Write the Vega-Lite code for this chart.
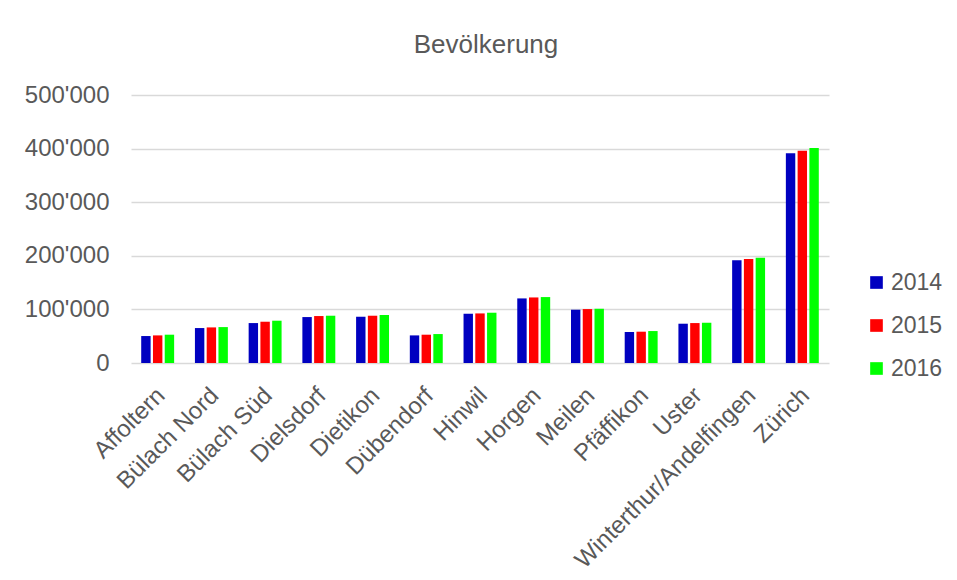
{
  "$schema": "https://vega.github.io/schema/vega-lite/v6.json",
  "autosize": "none",
  "padding": {"left": 131, "top": 95, "right": 128, "bottom": 217},
  "width": 698,
  "height": 268,
  "background": "white",
  "title": {"text": "Bevölkerung", "fontSize": 26, "fontWeight": "normal", "color": "#595959", "font": "Liberation Sans", "offset": 25, "dx": 6},
  "data": {"values": [
    {"bezirk": "Affoltern", "jahr": "2014", "wert": 50300},
    {"bezirk": "Affoltern", "jahr": "2015", "wert": 51500},
    {"bezirk": "Affoltern", "jahr": "2016", "wert": 52800},
    {"bezirk": "Bülach Nord", "jahr": "2014", "wert": 65200},
    {"bezirk": "Bülach Nord", "jahr": "2015", "wert": 66400},
    {"bezirk": "Bülach Nord", "jahr": "2016", "wert": 67000},
    {"bezirk": "Bülach Süd", "jahr": "2014", "wert": 74500},
    {"bezirk": "Bülach Süd", "jahr": "2015", "wert": 77000},
    {"bezirk": "Bülach Süd", "jahr": "2016", "wert": 78900},
    {"bezirk": "Dielsdorf", "jahr": "2014", "wert": 85700},
    {"bezirk": "Dielsdorf", "jahr": "2015", "wert": 87600},
    {"bezirk": "Dielsdorf", "jahr": "2016", "wert": 88200},
    {"bezirk": "Dietikon", "jahr": "2014", "wert": 86300},
    {"bezirk": "Dietikon", "jahr": "2015", "wert": 88200},
    {"bezirk": "Dietikon", "jahr": "2016", "wert": 89400},
    {"bezirk": "Dübendorf", "jahr": "2014", "wert": 51500},
    {"bezirk": "Dübendorf", "jahr": "2015", "wert": 52800},
    {"bezirk": "Dübendorf", "jahr": "2016", "wert": 54000},
    {"bezirk": "Hinwil", "jahr": "2014", "wert": 91900},
    {"bezirk": "Hinwil", "jahr": "2015", "wert": 92500},
    {"bezirk": "Hinwil", "jahr": "2016", "wert": 93800},
    {"bezirk": "Horgen", "jahr": "2014", "wert": 120500},
    {"bezirk": "Horgen", "jahr": "2015", "wert": 122300},
    {"bezirk": "Horgen", "jahr": "2016", "wert": 123000},
    {"bezirk": "Meilen", "jahr": "2014", "wert": 99400},
    {"bezirk": "Meilen", "jahr": "2015", "wert": 100600},
    {"bezirk": "Meilen", "jahr": "2016", "wert": 101200},
    {"bezirk": "Pfäffikon", "jahr": "2014", "wert": 57800},
    {"bezirk": "Pfäffikon", "jahr": "2015", "wert": 58400},
    {"bezirk": "Pfäffikon", "jahr": "2016", "wert": 59600},
    {"bezirk": "Uster", "jahr": "2014", "wert": 73300},
    {"bezirk": "Uster", "jahr": "2015", "wert": 74500},
    {"bezirk": "Uster", "jahr": "2016", "wert": 75100},
    {"bezirk": "Winterthur/Andelfingen", "jahr": "2014", "wert": 191900},
    {"bezirk": "Winterthur/Andelfingen", "jahr": "2015", "wert": 193800},
    {"bezirk": "Winterthur/Andelfingen", "jahr": "2016", "wert": 196200},
    {"bezirk": "Zürich", "jahr": "2014", "wert": 391200},
    {"bezirk": "Zürich", "jahr": "2015", "wert": 396200},
    {"bezirk": "Zürich", "jahr": "2016", "wert": 401200}
  ]},
  "mark": {"type": "bar"},
  "encoding": {
    "x": {
      "field": "bezirk", "type": "nominal", "sort": null,
      "scale": {"paddingInner": 0.387, "paddingOuter": 0.19},
      "axis": {"title": null, "labelAngle": -45, "labelAlign": "right", "labelBaseline": "top", "labelPadding": 20, "labelOffset": -5, "ticks": false, "domain": false, "grid": false, "labelFontSize": 24, "labelColor": "#595959", "labelFont": "Liberation Sans", "labelOverlap": false, "labelLimit": 400}
    },
    "xOffset": {"field": "jahr", "type": "nominal", "scale": {"paddingInner": 0.2}},
    "y": {
      "field": "wert", "type": "quantitative",
      "scale": {"domain": [0, 500000], "nice": false},
      "axis": {"title": null, "values": [0, 100000, 200000, 300000, 400000, 500000], "format": ",d", "ticks": false, "domain": false, "gridColor": "#d9d9d9", "gridWidth": 1.3, "labelPadding": 22, "labelFontSize": 24, "labelColor": "#595959", "labelFont": "Liberation Sans"}
    },
    "color": {
      "field": "jahr", "type": "nominal",
      "scale": {"domain": ["2014", "2015", "2016"], "range": ["#0000c0", "#ff0000", "#00ff00"]},
      "legend": {"title": null, "orient": "none", "legendX": 734, "legendY": 176, "padding": 0, "symbolType": "square", "symbolSize": 160, "symbolStrokeWidth": 0, "labelFontSize": 23, "labelColor": "#595959", "labelFont": "Liberation Sans", "labelOffset": 3, "rowPadding": 19}
    }
  },
  "config": {
    "locale": {"number": {"decimal": ".", "thousands": "'", "grouping": [3], "currency": ["", " CHF"]}},
    "view": {"stroke": null}
  }
}
